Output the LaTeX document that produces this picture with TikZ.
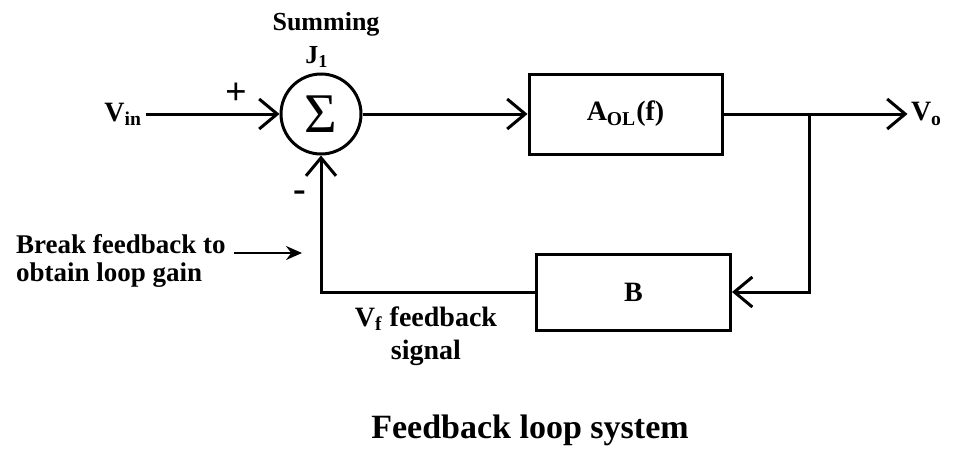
\documentclass[tikz,border=0pt]{standalone}
\usepackage{fontspec}
\setmainfont{Liberation Serif}
\usetikzlibrary{positioning,arrows.meta}
\tikzset{>={Straight Barb[length=9pt,width=15pt]}}

\begin{document}
\begin{tikzpicture}[x=0.5pt,y=-0.5pt,line width=1.5pt,
    every node/.style={font=\bfseries\fontsize{14}{16.5}\selectfont}]
            \useasboundingbox (0,0) rectangle (956,455);

            \node [draw, circle,
              minimum size=40pt, inner sep=0pt,
              font=\fontsize{28}{28}\selectfont
            ] (sum) at (321,114) {Σ};

            \node [draw,
              minimum width=96.5pt, minimum height=40pt,
              right=82.5pt of sum
            ] (aol) {A\textsubscript{OL}(f)};

            \node [draw,
              minimum width=97pt, minimum height=38pt,
              below=48.5pt of aol, xshift=4pt
            ] (beta) {B};

            \node [inner sep=1pt,
              left=67pt of sum
            ] (vin) {V\textsubscript{in}};

            \node [inner sep=1pt,
              right=92pt of aol
            ] (vout) {V\textsubscript{o}};

            \node [align=center,
              font=\bfseries\fontsize{13}{16.5}\selectfont
            ] (jlabel) at (326,40) {Summing\\J\textsubscript{1}\kern 9pt};
            \node [font=\bfseries\fontsize{19}{19}\selectfont] (plus) at (236,94) {+};
            \node [font=\bfseries\fontsize{19}{19}\selectfont] (minus) at (300,196) {-};

            \node [align=left, anchor=west,
              font=\bfseries\fontsize{13.5}{14}\selectfont
            ] (brktxt) at (8,261) {Break feedback to\\obtain loop gain};
            \node [align=center] (vflbl) at (426,336) {V\textsubscript{f} feedback\\signal};
            \node [font=\bfseries\fontsize{17}{20}\selectfont] (caption) at (530,430) {Feedback loop system};

            \coordinate [right=43pt of aol] (tap);
            \coordinate (brk) at (302,253);

            \draw[->] (vin) -- (sum);
            \draw[->] (sum) -- (aol);
            \draw[->] (aol) -- (vout);
            \draw[->] (tap) |- (beta);
            \draw[->] (beta) -| (sum);
            \draw[-{Stealth[length=8pt,width=7pt]}, line width=1pt] (brktxt.east |- brk) -- (brk);
          \end{tikzpicture}
\end{document}
